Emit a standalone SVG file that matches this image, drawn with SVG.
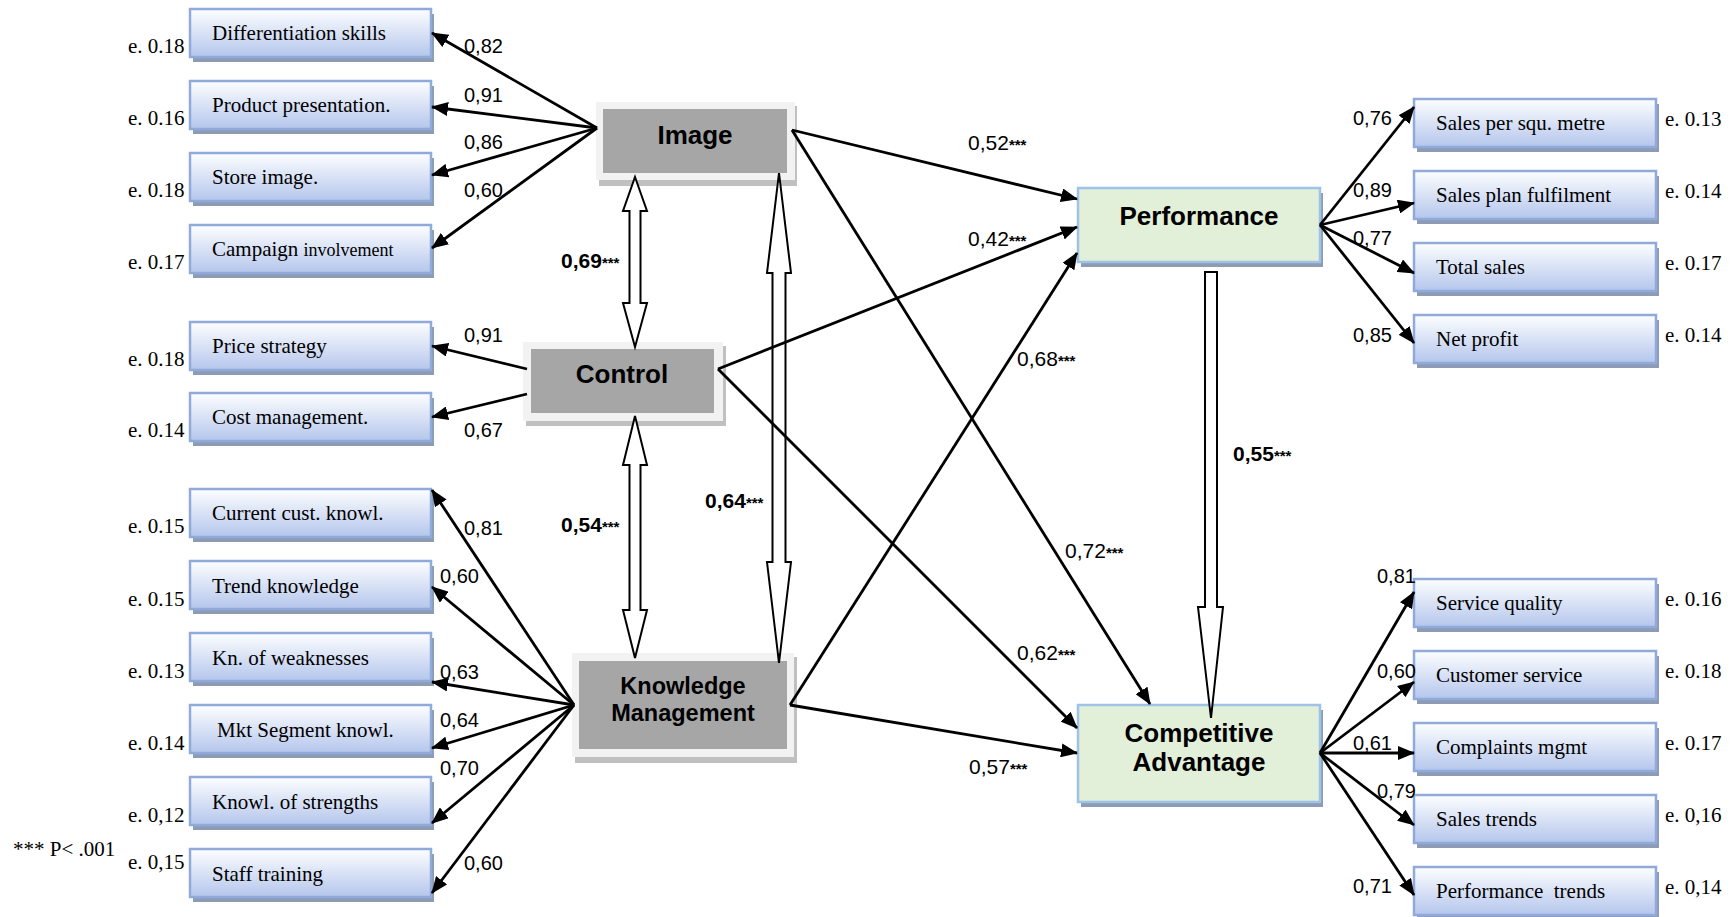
<svg xmlns="http://www.w3.org/2000/svg" width="1734" height="917" viewBox="0 0 1734 917">
<defs>
<linearGradient id="gBlue" x1="0" y1="0" x2="0" y2="1">
<stop offset="0" stop-color="#fdfeff"/>
<stop offset="1" stop-color="#b5c6ec"/>
</linearGradient>
<marker id="ah" markerUnits="userSpaceOnUse" markerWidth="18" markerHeight="14" refX="16" refY="7" orient="auto">
<path d="M0,0 L17,7 L0,14 z" fill="#000"/>
</marker>
<style>
.ob{fill:url(#gBlue);stroke:#8faadb;stroke-width:2.5}
.sh{fill:#8e9bb4}
.fr{fill:#f2f2f2}
.gs{fill:#c0c0c0}
.gi{fill:#a6a6a6}
.gr{fill:#e2efd9;stroke:#9dc3e6;stroke-width:2.5}
.t{font-family:"Liberation Serif","Times New Roman",serif;font-size:21px;fill:#000}
.e{font-family:"Liberation Serif","Times New Roman",serif;font-size:21px;fill:#000}
.n{font-family:"Liberation Sans",Arial,sans-serif;font-size:20px;fill:#000}
.p{font-family:"Liberation Sans",Arial,sans-serif;font-size:21px;fill:#000}
.b{font-family:"Liberation Sans",Arial,sans-serif;font-size:21px;font-weight:bold;fill:#000}
.s{font-size:15px;font-weight:bold}
.L{font-family:"Liberation Sans",Arial,sans-serif;font-weight:bold;fill:#000;text-anchor:middle}
.c{stroke:#000;stroke-width:2.8;fill:none;marker-end:url(#ah)}
.h{fill:#fff;stroke:#000;stroke-width:2}
</style>
</defs>
<rect width="1734" height="917" fill="#fff"/>

<!-- Image indicators -->
<g id="n-diff"><rect class="sh" x="193" y="14" width="241" height="48"/><rect class="ob" x="190" y="9" width="241" height="48"/><text class="t" x="212" y="40">Differentiation skills</text><text class="e" x="128" y="53">e. 0.18</text></g>
<g id="n-prod"><rect class="sh" x="193" y="86" width="241" height="48"/><rect class="ob" x="190" y="81" width="241" height="48"/><text class="t" x="212" y="112">Product presentation.</text><text class="e" x="128" y="125">e. 0.16</text></g>
<g id="n-store"><rect class="sh" x="193" y="158" width="241" height="48"/><rect class="ob" x="190" y="153" width="241" height="48"/><text class="t" x="212" y="184">Store image.</text><text class="e" x="128" y="197">e. 0.18</text></g>
<g id="n-camp"><rect class="sh" x="193" y="230" width="241" height="48"/><rect class="ob" x="190" y="225" width="241" height="48"/><text class="t" x="212" y="256">Campaign <tspan font-size="18">involvement</tspan></text><text class="e" x="128" y="269">e. 0.17</text></g>

<!-- Control indicators -->
<g id="n-price"><rect class="sh" x="193" y="327" width="241" height="48"/><rect class="ob" x="190" y="322" width="241" height="48"/><text class="t" x="212" y="353">Price strategy</text><text class="e" x="128" y="366">e. 0.18</text></g>
<g id="n-cost"><rect class="sh" x="193" y="398" width="241" height="48"/><rect class="ob" x="190" y="393" width="241" height="48"/><text class="t" x="212" y="424">Cost management.</text><text class="e" x="128" y="437">e. 0.14</text></g>

<!-- KM indicators -->
<g id="n-curr"><rect class="sh" x="193" y="494" width="241" height="48"/><rect class="ob" x="190" y="489" width="241" height="48"/><text class="t" x="212" y="520">Current cust. knowl.</text><text class="e" x="128" y="533">e. 0.15</text></g>
<g id="n-trend"><rect class="sh" x="193" y="566" width="241" height="48"/><rect class="ob" x="190" y="561" width="241" height="48"/><text class="t" x="212" y="593">Trend knowledge</text><text class="e" x="128" y="606">e. 0.15</text></g>
<g id="n-weak"><rect class="sh" x="193" y="638" width="241" height="48"/><rect class="ob" x="190" y="633" width="241" height="48"/><text class="t" x="212" y="665">Kn. of weaknesses</text><text class="e" x="128" y="678">e. 0.13</text></g>
<g id="n-mkt"><rect class="sh" x="193" y="710" width="241" height="48"/><rect class="ob" x="190" y="705" width="241" height="48"/><text class="t" x="217" y="737">Mkt Segment knowl.</text><text class="e" x="128" y="750">e. 0.14</text></g>
<g id="n-str"><rect class="sh" x="193" y="782" width="241" height="48"/><rect class="ob" x="190" y="777" width="241" height="48"/><text class="t" x="212" y="809">Knowl. of strengths</text><text class="e" x="128" y="822">e. 0,12</text></g>
<g id="n-staff"><rect class="sh" x="193" y="854" width="241" height="48"/><rect class="ob" x="190" y="849" width="241" height="48"/><text class="t" x="212" y="881">Staff training</text><text class="e" x="128" y="869">e. 0,15</text></g>

<text id="note" class="e" x="13" y="856" font-size="20">*** P&lt; .001</text>

<!-- Performance indicators -->
<g id="n-sqm"><rect class="sh" x="1417" y="104" width="242" height="48"/><rect class="ob" x="1414" y="99" width="242" height="48"/><text class="t" x="1436" y="130">Sales per squ. metre</text><text class="e" x="1665" y="126">e. 0.13</text></g>
<g id="n-plan"><rect class="sh" x="1417" y="176" width="242" height="48"/><rect class="ob" x="1414" y="171" width="242" height="48"/><text class="t" x="1436" y="202">Sales plan fulfilment</text><text class="e" x="1665" y="198">e. 0.14</text></g>
<g id="n-total"><rect class="sh" x="1417" y="248" width="242" height="48"/><rect class="ob" x="1414" y="243" width="242" height="48"/><text class="t" x="1436" y="274">Total sales</text><text class="e" x="1665" y="270">e. 0.17</text></g>
<g id="n-net"><rect class="sh" x="1417" y="320" width="242" height="48"/><rect class="ob" x="1414" y="315" width="242" height="48"/><text class="t" x="1436" y="346">Net profit</text><text class="e" x="1665" y="342">e. 0.14</text></g>

<!-- CA indicators -->
<g id="n-serv"><rect class="sh" x="1417" y="584" width="242" height="48"/><rect class="ob" x="1414" y="579" width="242" height="48"/><text class="t" x="1436" y="610">Service quality</text><text class="e" x="1665" y="606">e. 0.16</text></g>
<g id="n-cust"><rect class="sh" x="1417" y="656" width="242" height="48"/><rect class="ob" x="1414" y="651" width="242" height="48"/><text class="t" x="1436" y="682">Customer service</text><text class="e" x="1665" y="678">e. 0.18</text></g>
<g id="n-compl"><rect class="sh" x="1417" y="728" width="242" height="48"/><rect class="ob" x="1414" y="723" width="242" height="48"/><text class="t" x="1436" y="754">Complaints mgmt</text><text class="e" x="1665" y="750">e. 0.17</text></g>
<g id="n-strends"><rect class="sh" x="1417" y="800" width="242" height="48"/><rect class="ob" x="1414" y="795" width="242" height="48"/><text class="t" x="1436" y="826">Sales trends</text><text class="e" x="1665" y="822">e. 0,16</text></g>
<g id="n-ptrends"><rect class="sh" x="1417" y="872" width="242" height="48"/><rect class="ob" x="1414" y="867" width="242" height="48"/><text class="t" x="1436" y="898" style="white-space:pre">Performance  trends</text><text class="e" x="1665" y="894">e. 0,14</text></g>

<!-- latent constructs -->
<g id="n-image"><rect class="gs" x="599" y="106" width="198" height="80"/><rect class="fr" x="596" y="102" width="199" height="78"/><rect class="gi" x="603" y="109" width="184" height="64"/><text class="L" x="695" y="144" font-size="26">Image</text></g>
<g id="n-control"><rect class="gs" x="526" y="346" width="200" height="80"/><rect class="fr" x="523" y="342" width="200" height="79"/><rect class="gi" x="531" y="349" width="183" height="64"/><text class="L" x="622" y="383" font-size="26">Control</text></g>
<g id="n-km"><rect class="gs" x="575" y="657" width="222" height="106"/><rect class="fr" x="572" y="653" width="222" height="104"/><rect class="gi" x="579" y="661" width="208" height="88"/><text class="L" x="683" y="694" font-size="23.5">Knowledge</text><text class="L" x="683" y="721" font-size="23.5">Management</text></g>
<g id="n-perf"><rect class="sh" x="1081" y="193" width="242" height="74"/><rect class="gr" x="1078" y="188" width="242" height="74"/><text class="L" x="1199" y="225" font-size="26">Performance</text></g>
<g id="n-ca"><rect class="sh" x="1081" y="710" width="242" height="97"/><rect class="gr" x="1078" y="705" width="242" height="97"/><text class="L" x="1199" y="742" font-size="26">Competitive</text><text class="L" x="1199" y="771" font-size="26">Advantage</text></g>

<!-- connectors -->
<g id="connectors">
<polygon class="h" points="635,177 647,211 640.5,211 640.5,303 647,303 635,347 623,303 629.5,303 629.5,211 623,211"/>
<polygon class="h" points="635,416 647,465 640.5,465 640.5,610 647,610 635,658 623,610 629.5,610 629.5,465 623,465"/>
<polygon class="h" points="779,173 791,273 785.5,273 785.5,562 791,562 779,663 767,562 772.5,562 772.5,273 767,273"/>
<polygon class="h" points="1205,272 1217,272 1217,607 1223,607 1211,718 1198,607 1205,607"/>

<line class="c" x1="597" y1="128" x2="432" y2="33"/>
<line class="c" x1="597" y1="128" x2="432" y2="107"/>
<line class="c" x1="597" y1="128" x2="432" y2="175"/>
<line class="c" x1="597" y1="128" x2="432" y2="248"/>

<line class="c" x1="527" y1="369" x2="432" y2="346"/>
<line class="c" x1="527" y1="394" x2="432" y2="417"/>

<line class="c" x1="574" y1="705" x2="432" y2="490"/>
<line class="c" x1="574" y1="705" x2="432" y2="587"/>
<line class="c" x1="574" y1="705" x2="432" y2="682"/>
<line class="c" x1="574" y1="705" x2="432" y2="748"/>
<line class="c" x1="574" y1="705" x2="432" y2="823"/>
<line class="c" x1="574" y1="705" x2="432" y2="893"/>

<line class="c" x1="1320" y1="225" x2="1414" y2="107"/>
<line class="c" x1="1320" y1="225" x2="1414" y2="203"/>
<line class="c" x1="1320" y1="225" x2="1414" y2="273"/>
<line class="c" x1="1320" y1="225" x2="1414" y2="343"/>

<line class="c" x1="1320" y1="753" x2="1414" y2="592"/>
<line class="c" x1="1320" y1="753" x2="1414" y2="682"/>
<line class="c" x1="1320" y1="753" x2="1414" y2="753"/>
<line class="c" x1="1320" y1="753" x2="1414" y2="825"/>
<line class="c" x1="1320" y1="753" x2="1414" y2="895"/>

<line class="c" x1="792" y1="130" x2="1077" y2="199"/>
<line class="c" x1="792" y1="130" x2="1150" y2="704"/>
<line class="c" x1="718" y1="369" x2="1077" y2="227"/>
<line class="c" x1="718" y1="369" x2="1077" y2="728"/>
<line class="c" x1="790" y1="705" x2="1077" y2="253"/>
<line class="c" x1="790" y1="705" x2="1077" y2="753"/>
</g>

<!-- labels -->
<g id="labels">
<text class="n" x="464" y="53">0,82</text>
<text class="n" x="464" y="102">0,91</text>
<text class="n" x="464" y="149">0,86</text>
<text class="n" x="464" y="197">0,60</text>
<text class="n" x="464" y="342">0,91</text>
<text class="n" x="464" y="437">0,67</text>
<text class="n" x="464" y="535">0,81</text>
<text class="n" x="440" y="583">0,60</text>
<text class="n" x="440" y="679">0,63</text>
<text class="n" x="440" y="727">0,64</text>
<text class="n" x="440" y="775">0,70</text>
<text class="n" x="464" y="870">0,60</text>

<text class="n" x="1353" y="125">0,76</text>
<text class="n" x="1353" y="197">0,89</text>
<text class="n" x="1353" y="245">0,77</text>
<text class="n" x="1353" y="342">0,85</text>
<text class="n" x="1377" y="583">0,81</text>
<text class="n" x="1377" y="678">0,60</text>
<text class="n" x="1353" y="750">0,61</text>
<text class="n" x="1377" y="798">0,79</text>
<text class="n" x="1353" y="893">0,71</text>

<text class="p" x="968" y="150">0,52<tspan class="s">***</tspan></text>
<text class="p" x="968" y="246">0,42<tspan class="s">***</tspan></text>
<text class="p" x="1017" y="366">0,68<tspan class="s">***</tspan></text>
<text class="p" x="1065" y="558">0,72<tspan class="s">***</tspan></text>
<text class="p" x="1017" y="660">0,62<tspan class="s">***</tspan></text>
<text class="p" x="969" y="774">0,57<tspan class="s">***</tspan></text>

<text class="b" x="561" y="268">0,69<tspan class="s">***</tspan></text>
<text class="b" x="561" y="532">0,54<tspan class="s">***</tspan></text>
<text class="b" x="705" y="508">0,64<tspan class="s">***</tspan></text>
<text class="b" x="1233" y="461">0,55<tspan class="s">***</tspan></text>
</g>
</svg>
